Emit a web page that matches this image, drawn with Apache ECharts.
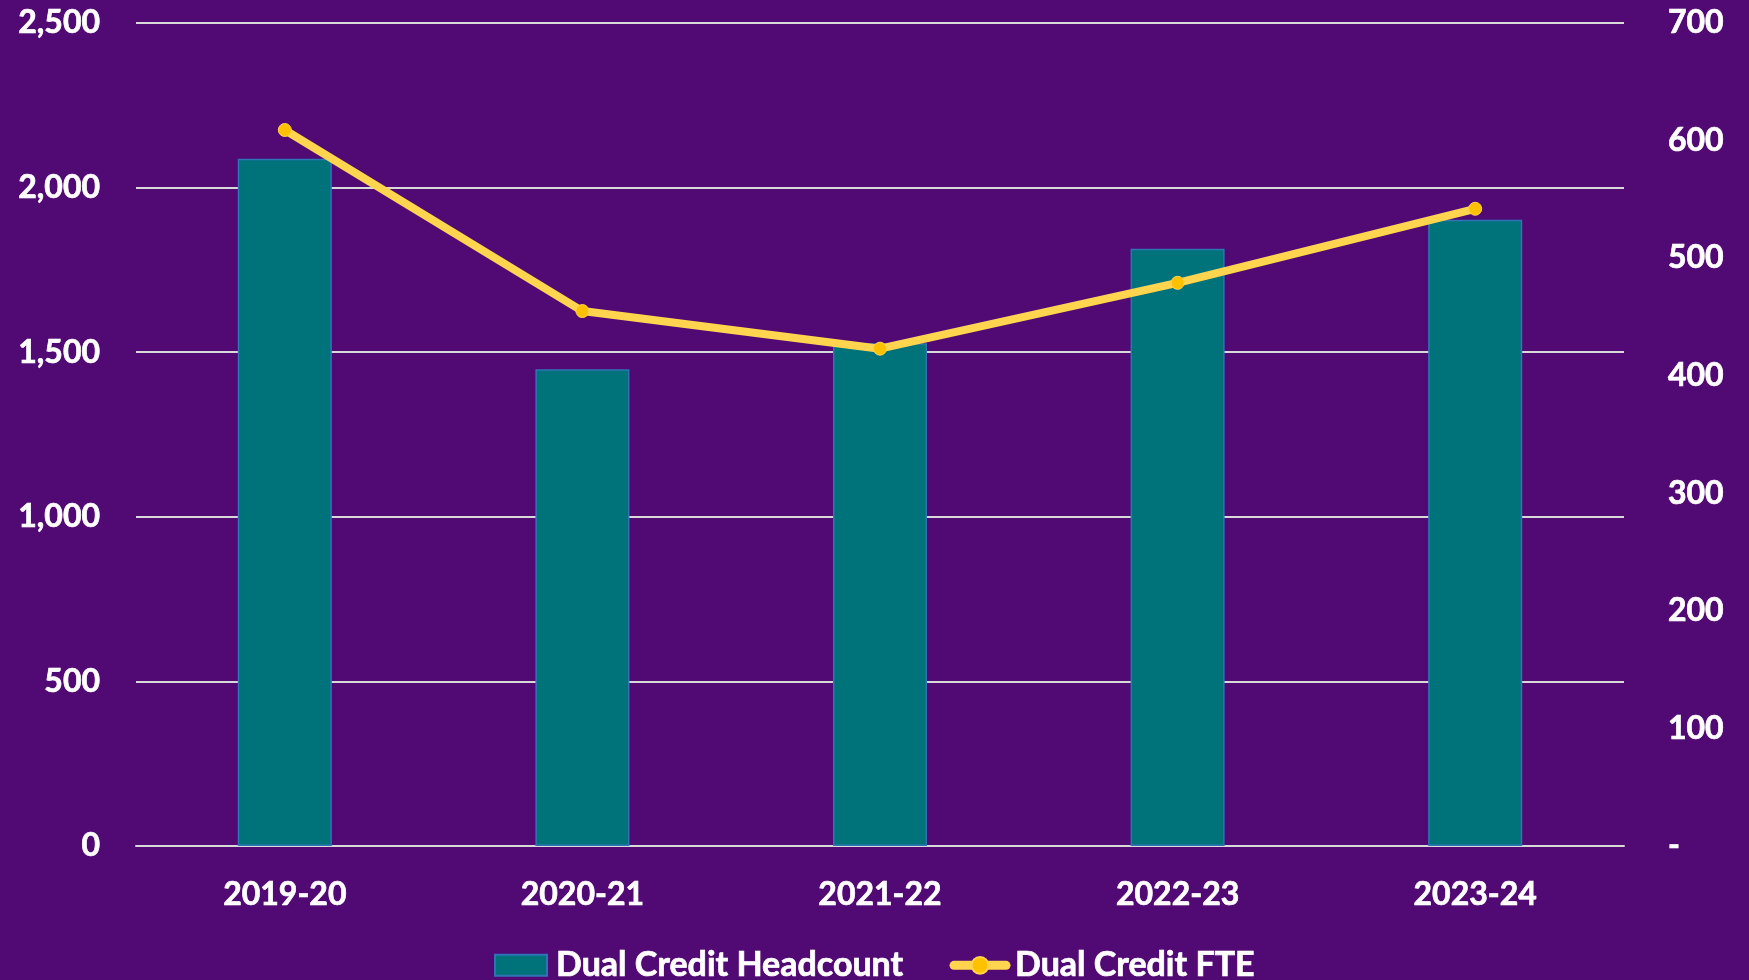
<!DOCTYPE html>
<html>
<head>
<meta charset="utf-8">
<script src="https://cdn.jsdelivr.net/npm/echarts@6/dist/echarts.min.js"></script>
<style>
  html, body { margin: 0; padding: 0; background: #510a73; }
  #chart { width: 1749px; height: 980px; }
</style>
</head>
<body>
<div id="chart"></div>
<script>
// data
const years = ['2019-20', '2020-21', '2021-22', '2022-23', '2023-24'];
const headcount = [2088, 1448, 1527, 1814, 1902];
const fte = [609, 455, 423, 479, 542];

const FONT = 'Lato, "Open Sans", sans-serif';
// bold white text, slightly thickened to look like the original
const txt = (size) => ({
  color: '#fff', fontSize: size, fontWeight: 'bold', fontFamily: FONT,
  textBorderColor: '#fff', textBorderWidth: 0.7
});

const chart = echarts.init(document.getElementById('chart'));

const option = {
  backgroundColor: '#510a73',
  animation: false,
  grid: { left: 136, right: 125, top: 23, bottom: 134 },
  legend: {
    top: 943,
    left: 'center',
    itemGap: 46,
    itemWidth: 52,
    itemHeight: 21,
    textStyle: Object.assign(txt(34), { padding: [0, 0, 0, 4] }),
    data: [
      { name: 'Dual Credit Headcount', icon: 'rect' },
      {
        name: 'Dual Credit FTE',
        lineStyle: { width: 9, cap: 'round' }
      }
    ]
  },
  xAxis: {
    type: 'category',
    data: years,
    axisLine: { lineStyle: { color: '#d9d9d9', width: 2 } },
    axisTick: { show: false },
    axisLabel: Object.assign(txt(32), { margin: 33 })
  },
  yAxis: [
    {
      type: 'value',
      min: 0, max: 2500, interval: 500,
      axisLine: { show: false },
      axisTick: { show: false },
      splitLine: { lineStyle: { color: '#d9d9d9', width: 2 } },
      axisLabel: Object.assign(txt(32), {
        margin: 36,
        formatter: v => v.toLocaleString('en-US')
      })
    },
    {
      type: 'value',
      min: 0, max: 700, interval: 100,
      position: 'right',
      axisLine: { show: false },
      axisTick: { show: false },
      splitLine: { show: false },
      axisLabel: Object.assign(txt(32), {
        margin: 44,
        align: 'left',
        formatter: v => (v === 0 ? '-' : String(v))
      })
    }
  ],
  series: [
    {
      name: 'Dual Credit Headcount',
      type: 'bar',
      data: headcount,
      barWidth: '31.6%',
      itemStyle: { color: '#00727a', borderColor: '#2e75b6', borderWidth: 1.5 }
    },
    {
      name: 'Dual Credit FTE',
      type: 'line',
      yAxisIndex: 1,
      data: fte,
      symbol: 'circle',
      symbolSize: 13,
      lineStyle: { color: '#ffd44f', width: 8 },
      itemStyle: { color: '#ffc000', borderColor: '#ffd44f', borderWidth: 1 }
    }
  ]
};

chart.setOption(option);
</script>
</body>
</html>
